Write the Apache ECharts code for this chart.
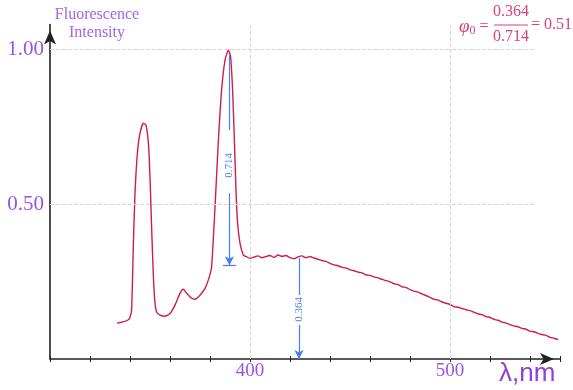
<!DOCTYPE html>
<html>
<head>
<meta charset="utf-8">
<script src="https://cdn.jsdelivr.net/npm/echarts@6/dist/echarts.min.js"></script>
<style>
  html, body { margin: 0; padding: 0; background: #fff; }
  #chart { width: 573px; height: 390px; }
</style>
</head>
<body>
<div id="chart"></div>
<script>
// emission spectrum, wavelength in nm
const wavelength = [
  333.5, 336, 339, 340, 340.8, 341.7, 342.5, 343.7, 345, 346.7, 348, 349.2, 350, 350.8, 351.7, 352.5, 353.3,
  355, 357.5, 360, 362.5, 365, 366.7, 368.3, 370.8, 372.5, 375, 377.5, 379.5, 380.8, 382.5, 384.2, 385.8,
  387.5, 389.2, 390.3, 391.3, 392.2, 393, 393.8, 395, 396.7,
  398, 400, 402, 404, 406, 408, 410, 412, 414, 416, 418, 420, 422, 424, 426, 428, 430, 432, 434, 436,
  438, 440, 442, 444, 446, 448, 450, 452, 454, 456, 458, 460, 462, 464, 466, 468, 470, 472, 474, 476,
  478, 480, 482, 484, 486, 488, 490, 492, 494, 496, 498, 500, 502, 504, 506, 508, 510, 512, 514, 516,
  518, 520, 522, 524, 526, 528, 530, 532, 534, 536, 538, 540, 542, 544, 546, 548, 550, 552, 554
];
const intensity = [
  0.116, 0.119, 0.126, 0.135, 0.158, 0.374, 0.535, 0.665, 0.729, 0.761, 0.755, 0.697, 0.587, 0.426, 0.265, 0.181, 0.152,
  0.142, 0.138, 0.147, 0.174, 0.212, 0.225, 0.212, 0.196, 0.193, 0.206, 0.228, 0.262, 0.298, 0.491, 0.706, 0.868,
  0.965, 0.997, 0.975, 0.868, 0.706, 0.545, 0.439, 0.374, 0.335,
  0.331, 0.325, 0.329, 0.333, 0.327, 0.331, 0.334, 0.328, 0.336, 0.331, 0.334, 0.327, 0.324, 0.330, 0.333, 0.327, 0.331, 0.326, 0.322, 0.318,
  0.315, 0.309, 0.304, 0.301, 0.296, 0.294, 0.288, 0.285, 0.281, 0.278, 0.272, 0.270, 0.265, 0.262, 0.257, 0.253, 0.249, 0.243, 0.240, 0.233,
  0.231, 0.224, 0.219, 0.216, 0.210, 0.205, 0.199, 0.193, 0.190, 0.184, 0.180, 0.176, 0.169, 0.167, 0.163, 0.159, 0.156, 0.151, 0.146, 0.143,
  0.137, 0.134, 0.128, 0.125, 0.119, 0.116, 0.111, 0.107, 0.104, 0.099, 0.096, 0.090, 0.088, 0.083, 0.079, 0.076, 0.070, 0.067, 0.063
];

const xTickLabels = [400, 500];
const yTickLabels = [0.5, 1.0];
const gridX = [400, 500];
const gridY = [0.5, 1.0];
const gridYEnd = 543;

// measured heights drawn as blue arrows, with a gap for the label
const heightNames = ['0.714', '0.364'];
const heightAtX = [389.7, 424.5];
const heightTop = [0.981, 0.326];
const heightGapTop = [0.739, 0.206];
const heightGapBottom = [0.535, 0.11];
const heightBottom = [0.303, 0];
const heightLabelY = [0.625, 0.16];

const purple = '#9a52e0';
const pink = '#d83f7c';
const blue = '#4a80ea';

const chart = echarts.init(document.getElementById('chart'));

const markData = [];
gridY.forEach(v => markData.push([
  { coord: [300, v], symbol: 'none', lineStyle: { color: '#d6d6d6', type: 'dashed', width: 1 } },
  { coord: [gridYEnd, v], symbol: 'none' }
]));
gridX.forEach(v => markData.push([
  { coord: [v, 0], symbol: 'none', lineStyle: { color: '#d6d6d6', type: 'dashed', width: 1 } },
  { coord: [v, 1.08], symbol: 'none' }
]));
heightNames.forEach((n, i) => {
  markData.push([
    { coord: [heightAtX[i], heightTop[i]], symbol: 'none', lineStyle: { color: blue, type: 'solid', width: 1.2 } },
    { coord: [heightAtX[i], heightGapTop[i]], symbol: 'none' }
  ]);
  markData.push([
    { coord: [heightAtX[i], heightGapBottom[i]], symbol: 'none', lineStyle: { color: blue, type: 'solid', width: 1.2 } },
    { coord: [heightAtX[i], heightBottom[i]], symbol: 'arrow' }
  ]);
});
// small bar under the first arrow
markData.push([
  { coord: [heightAtX[0] - 3.3, heightBottom[0]], symbol: 'none', lineStyle: { color: blue, type: 'solid', width: 1.2 } },
  { coord: [heightAtX[0] + 3.3, heightBottom[0]], symbol: 'none' }
]);

const option = {
  animation: false,
  backgroundColor: '#fff',
  grid: { left: 50, right: 13, top: 24.5, bottom: 31 },
  xAxis: [{
    type: 'value', min: 300, max: 555, interval: 20,
    axisLine: { onZero: false, lineStyle: { color: '#222', width: 1.6 }, symbol: ['none', 'arrow'], symbolSize: [9, 14], symbolOffset: [0, -6] },
    axisTick: { show: true, length: 3, lineStyle: { color: '#222' } },
    axisLabel: {
      color: purple, fontFamily: 'Liberation Serif', fontSize: 19, margin: 3,
      formatter: v => xTickLabels.includes(v) ? String(v) : ''
    },
    splitLine: { show: false }
  }, {
    type: 'value', min: 300, max: 555, interval: 20, position: 'bottom',
    axisLine: { show: false, onZero: false },
    axisTick: { show: true, inside: true, length: 3, lineStyle: { color: '#222' } },
    axisLabel: { show: false },
    splitLine: { show: false }
  }],
  yAxis: {
    type: 'value', min: 0, max: 1.08, interval: 0.5,
    axisLine: { show: true, lineStyle: { color: '#222', width: 1.6 }, symbol: ['none', 'arrow'], symbolSize: [9, 14], symbolOffset: [0, -6] },
    axisTick: { show: false },
    axisLabel: {
      color: purple, fontFamily: 'Liberation Serif', fontSize: 21, margin: 6,
      formatter: v => yTickLabels.includes(v) ? v.toFixed(2) : ''
    },
    splitLine: { show: false }
  },
  series: [{
    type: 'line',
    data: wavelength.map((w, i) => [w, intensity[i]]),
    showSymbol: false,
    symbol: 'none',
    smooth: 0.2,
    lineStyle: { color: '#d01c4b', width: 1.4 },
    z: 3,
    markLine: {
      silent: true, animation: false, symbolSize: [7, 9],
      label: { show: false },
      data: markData
    }
  }, {
    type: 'scatter',
    data: heightNames.map((n, i) => [heightAtX[i], heightLabelY[i]]),
    symbolSize: 2,
    itemStyle: { color: 'rgba(0,0,0,0)' },
    z: 5,
    label: {
      show: true, position: 'inside', rotate: 90, opacity: 1,
      formatter: p => heightNames[p.dataIndex],
      color: blue, fontFamily: 'Liberation Serif', fontSize: 11
    }
  }],
  graphic: [{
    type: 'text', left: 97 - 45, top: 6,
    style: {
      text: 'Fluorescence\nIntensity', fill: '#a366e2', font: '16px "Liberation Serif"',
      textAlign: 'center', lineHeight: 18, width: 90, x: 45
    }
  }, {
    type: 'text', left: 499, top: 361,
    style: { text: 'λ,nm', fill: '#8e3fd8', font: '26px "Liberation Sans"' }
  }, {
    type: 'group', left: 459, top: 4,
    children: [{
      type: 'text', x: 0, y: 13,
      style: {
        text: '{phi|φ}{sub|0} =',
        fill: pink, font: '16px "Liberation Serif"',
        rich: {
          phi: { fontStyle: 'italic', fontSize: 19, fill: pink, fontFamily: 'Liberation Serif' },
          sub: { fontSize: 12, fill: pink, fontFamily: 'Liberation Serif', verticalAlign: 'bottom', padding: [8, 0, 0, 0] }
        }
      }
    }, {
      type: 'text', x: 52, y: 0,
      style: { text: '0.364', fill: pink, font: '16px "Liberation Serif"', textAlign: 'center' }
    }, {
      type: 'line', shape: { x1: 35, y1: 21, x2: 69, y2: 21 },
      style: { stroke: pink, lineWidth: 1 }
    }, {
      type: 'text', x: 52, y: 25,
      style: { text: '0.714', fill: pink, font: '16px "Liberation Serif"', textAlign: 'center' }
    }, {
      type: 'text', x: 72, y: 13,
      style: { text: '= 0.51', fill: pink, font: '16px "Liberation Serif"' }
    }]
  }]
};

chart.setOption(option);
</script>
</body>
</html>
